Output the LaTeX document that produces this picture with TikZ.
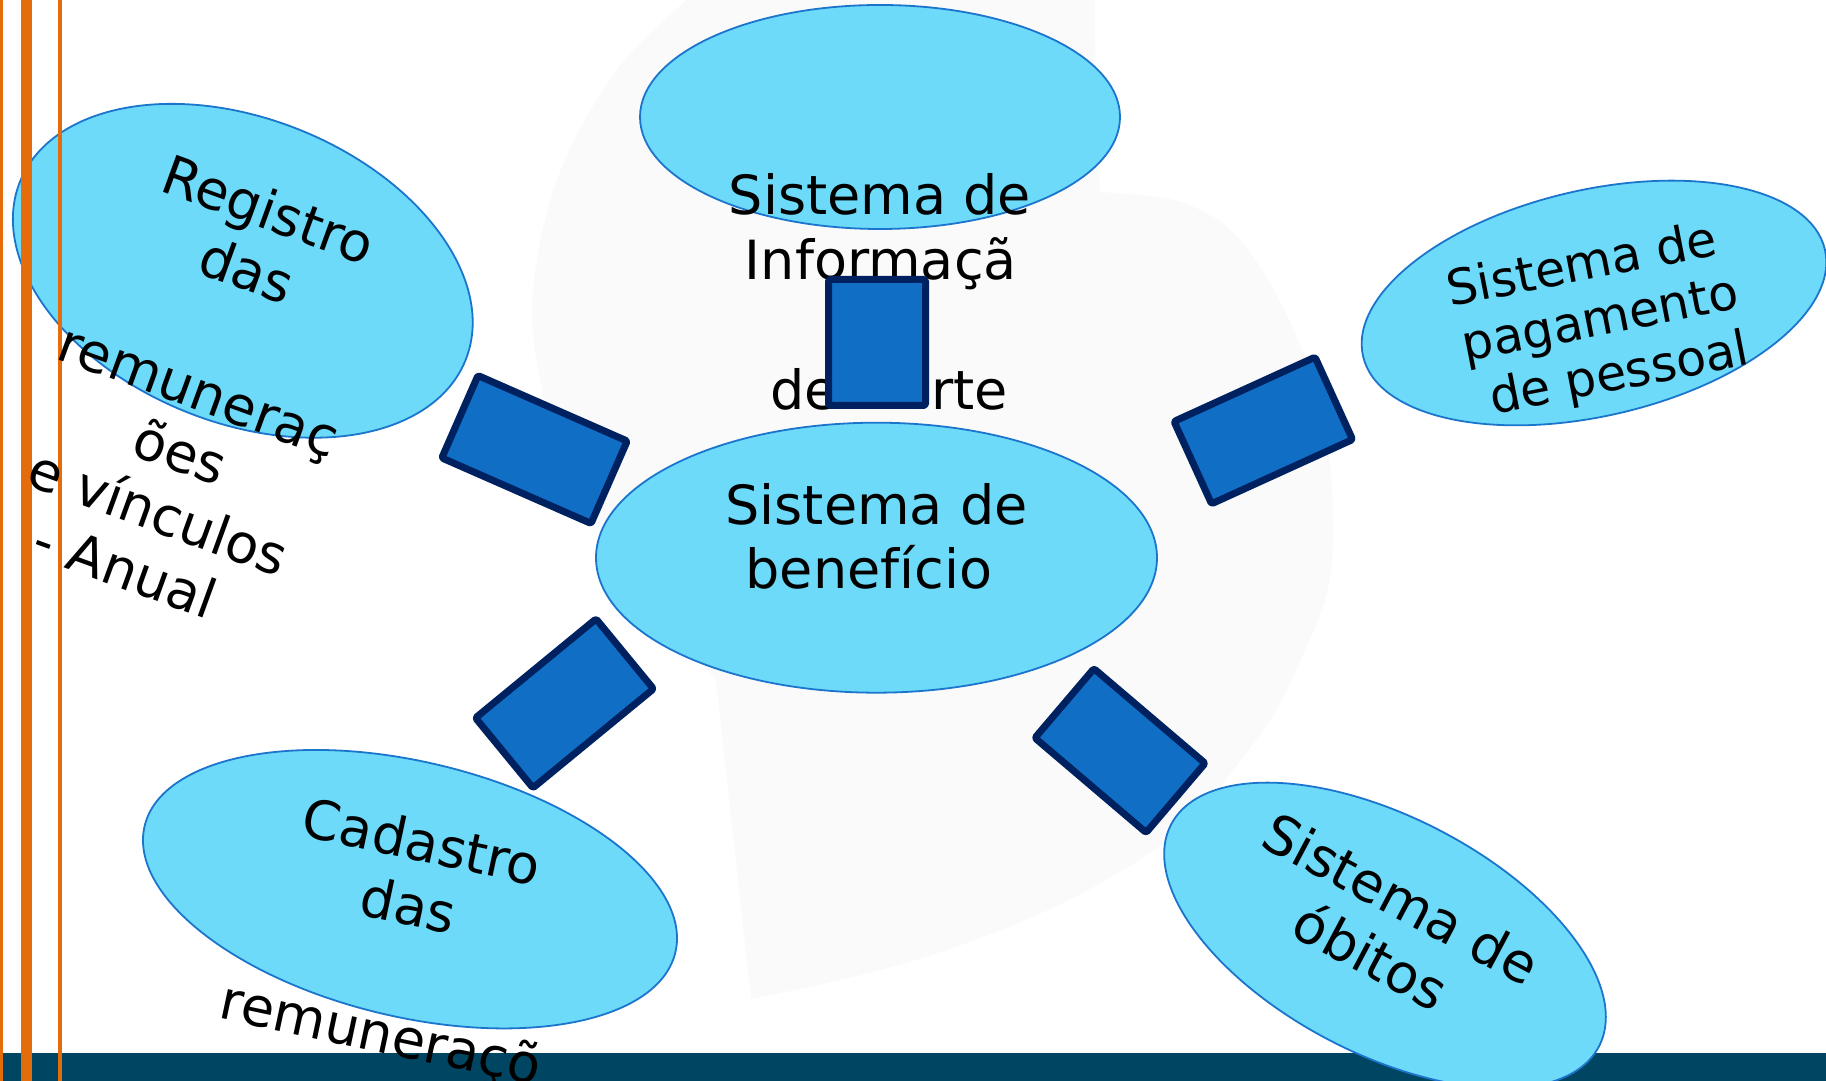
\documentclass[tikz,border=0pt]{standalone}
\usepackage{fontspec}
\setmainfont{DejaVu Sans}
\usetikzlibrary{shapes.geometric}
\definecolor{ellfill}{RGB}{108,218,248}
\definecolor{elldraw}{RGB}{27,117,204}
\definecolor{boxfill}{RGB}{16,110,197}
\definecolor{boxdraw}{RGB}{0,33,96}
\definecolor{barcol}{RGB}{0,70,98}
\definecolor{orangecol}{RGB}{228,108,10}
\definecolor{wmcol}{RGB}{250,250,250}
\begin{document}
\begin{tikzpicture}[x=1pt,y=1pt,
  oval/.style={ellipse, draw=elldraw, fill=ellfill, line width=1.8pt, inner sep=0pt},
  blk/.style={rectangle, draw=boxdraw, fill=boxfill, line width=7pt, line join=round, rounded corners=1.5pt, inner sep=0pt},
  txt/.style={inner sep=0pt, anchor=base, font=\fontsize{54}{65}\selectfont},
  txts/.style={inner sep=0pt, anchor=base, font=\fontsize{49}{57}\selectfont},
  orangeline/.style={fill=orangecol}]
\useasboundingbox (0,0) rectangle (1826,1081);
\fill[white] (0,0) rectangle (1826,1081);
% faint watermark
\fill[wmcol] plot[smooth, tension=0.6] coordinates {(687,1081) (617,1011) (559,906) (533,790) (541,697) (570,615) (620,521) (716,401)}
  -- (751,82)
  -- plot[smooth, tension=0.6] coordinates {(751,82) (840,101) (931.6,126) (1030,163) (1118,208) (1190,259) (1234,312) (1275,369) (1304,429) (1325,481) (1333,534) (1332,591) (1327,639) (1312,701) (1292,755) (1265,806) (1234,848) (1200,871) (1164,883) (1100,889)}
  -- (1096,981) -- (1094.6,1081) -- cycle;
% bottom bar
\fill[barcol] (0,0) rectangle (1826,27.5);
% ellipses
\node[oval, minimum width=480, minimum height=224] (topell) at (880,964) {};
\node[oval, minimum width=561, minimum height=270] (center) at (876.5,523.3) {};
\node[oval, minimum width=480, minimum height=304, rotate=-21.8] (registro) at (242.8,810.2) {};
\node[oval, minimum width=474, minimum height=226, rotate=13] (pagamento) at (1594,778) {};
\node[oval, minimum width=545.6, minimum height=255, rotate=-13.4] (cadastro) at (410,191.8) {};
\node[oval, minimum width=482, minimum height=237, rotate=-27.4] (obitos) at (1385,145.5) {};
% orange lines
\fill[orangeline] (0,0) rectangle (3,1081);
\fill[orangeline] (21,0) rectangle (32,1081);
\fill[orangeline] (58,0) rectangle (62,1081);
% texts
\node[txt] (t1a) at (880,866) {Sistema de};
\node[txt] (t1b) at (880.8,801) {Informaçã};
\node[txt] (t1c) at (889,671) {de\hspace*{93.6pt}rte};
\node[txt] (t2a) at (876.5,556) {Sistema de};
\node[txt] (t2b) at (869,492) {benefício};
\begin{scope}[shift={(262,853)}, rotate=-20, transform shape]
  \node[txt] (r1) at (0,0) {Registro};
  \node[txt] (r2) at (0,-64.5) {das};
  \node[txt] (r3) at (-4,-193.5) {remuneraç};
  \node[txt] (r4) at (0,-258) {ões};
  \node[txt] (r5) at (0,-322.5) {e vínculos};
  \node[txt] (r6) at (-12,-387) {- Anual};
\end{scope}
\begin{scope}[shift={(418,220)}, rotate=-12, transform shape]
  \node[txt] (c1) at (0,0) {Cadastro};
  \node[txt] (c2) at (0,-65) {das};
  \node[txt] (c3) at (0,-195) {remuneraçõ};
\end{scope}
\node[txts, rotate=11] (p1) at (1585,800.4) {Sistema de};
\node[txts, rotate=11] (p2) at (1603.1,746) {pagamento};
\node[txts, rotate=11] (p3) at (1622.4,691.6) {de pessoal};
\node[txt, rotate=-28] (o1) at (1392,164.8) {Sistema de};
\node[txt, rotate=-28] (o2) at (1361.5,107.4) {óbitos};
% blue blocks
\node[blk, minimum width=97, minimum height=126] (b1) at (877,738.5) {};
\node[blk, minimum width=163, minimum height=90, rotate=-23.7] (b2) at (534.5,631.5) {};
\node[blk, minimum width=156, minimum height=90.5, rotate=39.4] (b3) at (564.5,377.6) {};
\node[blk, minimum width=155, minimum height=90.5, rotate=24.5] (b4) at (1263.3,650.5) {};
\node[blk, minimum width=146, minimum height=91, rotate=-40.4] (b5) at (1120,330.4) {};
\end{tikzpicture}
\end{document}
